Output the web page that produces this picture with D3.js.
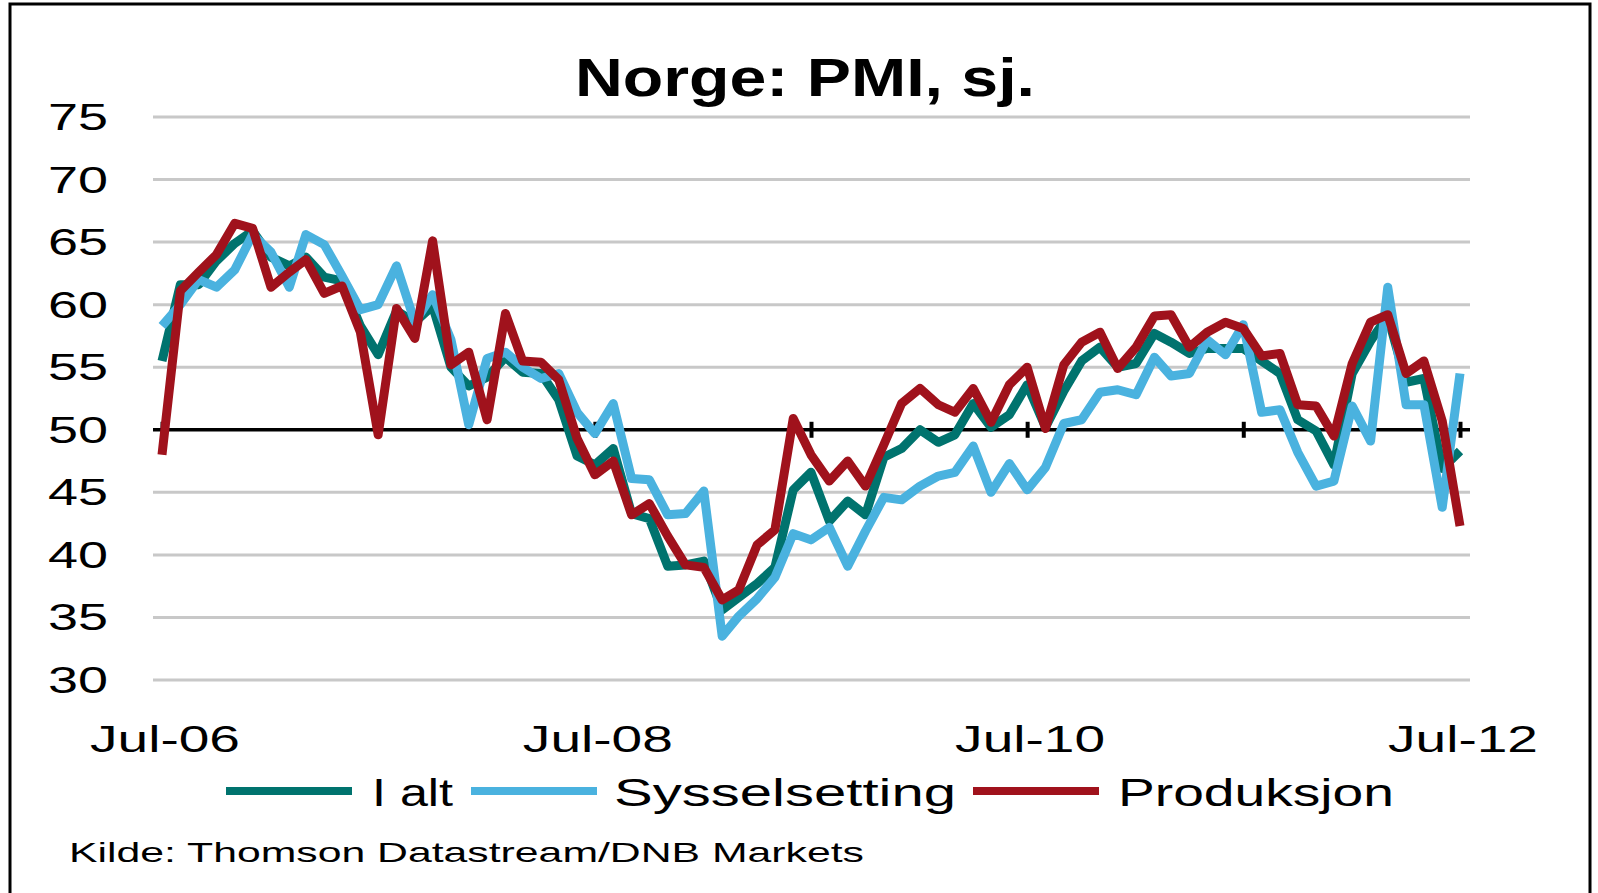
<!DOCTYPE html>
<html>
<head>
<meta charset="utf-8">
<script src="https://cdn.jsdelivr.net/npm/d3@7"></script>
<style>
  body { margin: 0; background: #fff; }
  text { font-family: "Liberation Sans", Arial, sans-serif; fill: #000; }
</style>
</head>
<body>
<script>
// monthly, Jul-06 .. Jul-12
var months = d3.timeMonth.range(new Date(2006, 6, 1), new Date(2012, 7, 1));

var ialt = [55.5,61.6,61.6,63.5,64.9,65.9,63.8,63.1,63.8,62.2,61.9,58.3,56.0,59.5,58.6,59.9,55.0,53.5,54.2,55.8,
  54.6,54.5,52.4,47.9,47.2,48.5,43.3,42.9,39.1,39.2,39.5,35.6,36.6,37.7,39.0,45.2,46.6,42.7,44.3,43.2,
  47.8,48.5,50.0,49.0,49.6,52.1,50.2,51.2,53.6,50.2,53.1,55.5,56.6,55.0,55.3,57.7,57.0,56.1,56.5,56.5,
  56.5,55.5,54.5,50.8,49.9,47.2,54.5,57.1,59.1,53.8,54.1,46.9,48.3];

var sysselsetting = [58.3,60.0,62.0,61.4,62.8,65.6,64.2,61.4,65.6,64.8,62.3,59.6,60.0,63.1,58.6,60.8,57.2,50.4,55.7,56.2,
  55.0,54.1,54.5,51.4,49.7,52.1,46.1,46.0,43.2,43.3,45.1,33.5,35.1,36.5,38.2,41.7,41.2,42.2,39.1,41.9,
  44.6,44.4,45.5,46.3,46.6,48.7,45.0,47.3,45.2,47.0,50.5,50.8,53.0,53.2,52.8,55.8,54.3,54.5,57.2,56.0,
  58.4,51.4,51.6,48.2,45.5,45.9,51.9,49.1,61.4,52.0,52.0,43.8,54.5];

var produksjon = [48.0,61.1,62.6,64.0,66.5,66.1,61.4,62.6,63.6,60.9,61.5,57.8,49.6,59.7,57.3,65.1,55.2,56.2,50.8,59.3,
  55.5,55.4,54.0,49.3,46.4,47.5,43.2,44.1,41.5,39.2,39.0,36.4,37.2,40.8,42.0,50.9,48.0,45.9,47.5,45.5,
  48.8,52.1,53.3,52.0,51.4,53.3,50.6,53.6,55.0,50.1,55.2,57.0,57.8,54.9,56.6,59.1,59.2,56.6,57.8,58.6,
  58.1,55.9,56.1,52.0,51.9,49.5,55.3,58.6,59.2,54.5,55.5,50.7,42.3];

var seriesNames = ["I alt", "Sysselsetting", "Produksjon"];
var seriesColors = ["#00736e", "#4ab2df", "#a0121c"];
var yTicks = [30, 35, 40, 45, 50, 55, 60, 65, 70, 75];
var xTickDates = [new Date(2006,6,1), new Date(2007,6,1), new Date(2008,6,1), new Date(2009,6,1),
  new Date(2010,6,1), new Date(2011,6,1), new Date(2012,6,1)];
var xLabelDates = [new Date(2006,6,1), new Date(2008,6,1), new Date(2010,6,1), new Date(2012,6,1)];
var xLabels = ["Jul-06", "Jul-08", "Jul-10", "Jul-12"];

var WIDTH = 1598, HEIGHT = 893;
var GRID_LEFT = 153, GRID_RIGHT = 1470;

var svg = d3.select("body").append("svg")
  .attr("width", WIDTH)
  .attr("height", HEIGHT);

svg.append("rect")
  .attr("x", 10).attr("y", 4)
  .attr("width", 1580).attr("height", 900)
  .attr("fill", "#fff")
  .attr("stroke", "#000")
  .attr("stroke-width", 3);

var x = d3.scaleTime()
  .domain([months[0], months[months.length - 1]])
  .range([162, 1460]);

var y = d3.scaleLinear()
  .domain([30, 75])
  .range([680, 117]);

// gridlines
svg.append("g").selectAll("line")
  .data(yTicks.filter(function (d) { return d !== 50; }))
  .enter().append("line")
  .attr("x1", GRID_LEFT).attr("x2", GRID_RIGHT)
  .attr("y1", function (d) { return y(d); })
  .attr("y2", function (d) { return y(d); })
  .attr("stroke", "#c8c8c8")
  .attr("stroke-width", 3);

// y labels
svg.append("g").selectAll("text")
  .data(yTicks)
  .enter().append("text")
  .attr("x", 48)
  .attr("y", function (d) { return y(d) + 13; })
  .attr("font-size", 36)
  .attr("textLength", 60)
  .attr("lengthAdjust", "spacingAndGlyphs")
  .text(function (d) { return d; });

// axis crossing at 50
var axisY = y(50);
svg.append("line")
  .attr("x1", GRID_LEFT).attr("x2", GRID_RIGHT)
  .attr("y1", axisY).attr("y2", axisY)
  .attr("stroke", "#000")
  .attr("stroke-width", 3.5);

var xAxis = d3.axisBottom(x)
  .tickValues(xTickDates)
  .tickSize(16)
  .tickFormat("");

var axisG = svg.append("g")
  .attr("transform", "translate(0," + (axisY - 8) + ")")
  .call(xAxis);
axisG.select(".domain").remove();
axisG.selectAll(".tick line")
  .attr("stroke", "#000")
  .attr("stroke-width", 4);

// x labels
svg.append("g").selectAll("text")
  .data(xLabelDates)
  .enter().append("text")
  .attr("x", function (d) { return x(d) + 3 - 75; })
  .attr("y", 752)
  .attr("font-size", 36)
  .attr("textLength", 150)
  .attr("lengthAdjust", "spacingAndGlyphs")
  .text(function (d, i) { return xLabels[i]; });

// lines
var line = d3.line()
  .x(function (d, i) { return x(months[i]); })
  .y(function (d) { return y(d); });

[ialt, sysselsetting, produksjon].forEach(function (s, k) {
  svg.append("path")
    .attr("d", line(s))
    .attr("fill", "none")
    .attr("stroke", seriesColors[k])
    .attr("stroke-width", 9)
    .attr("stroke-linejoin", "round");
});

// title
svg.append("text")
  .attr("x", 575)
  .attr("y", 96)
  .attr("font-size", 53)
  .attr("font-weight", "bold")
  .attr("textLength", 460)
  .attr("lengthAdjust", "spacingAndGlyphs")
  .text("Norge: PMI, sj.");

// legend
var legendSwatchX = [226, 471, 973];
var legendTextX = [372, 614, 1118];
var legendTextW = [81, 342, 276];
var legend = svg.append("g");
seriesNames.forEach(function (name, k) {
  legend.append("line")
    .attr("x1", legendSwatchX[k]).attr("x2", legendSwatchX[k] + 126)
    .attr("y1", 791).attr("y2", 791)
    .attr("stroke", seriesColors[k])
    .attr("stroke-width", 8);
  legend.append("text")
    .attr("x", legendTextX[k])
    .attr("y", 806)
    .attr("font-size", 38)
    .attr("textLength", legendTextW[k])
    .attr("lengthAdjust", "spacingAndGlyphs")
    .text(name);
});

// source
svg.append("text")
  .attr("x", 69)
  .attr("y", 862)
  .attr("font-size", 28)
  .attr("textLength", 795)
  .attr("lengthAdjust", "spacingAndGlyphs")
  .text("Kilde: Thomson Datastream/DNB Markets");
</script>
</body>
</html>
